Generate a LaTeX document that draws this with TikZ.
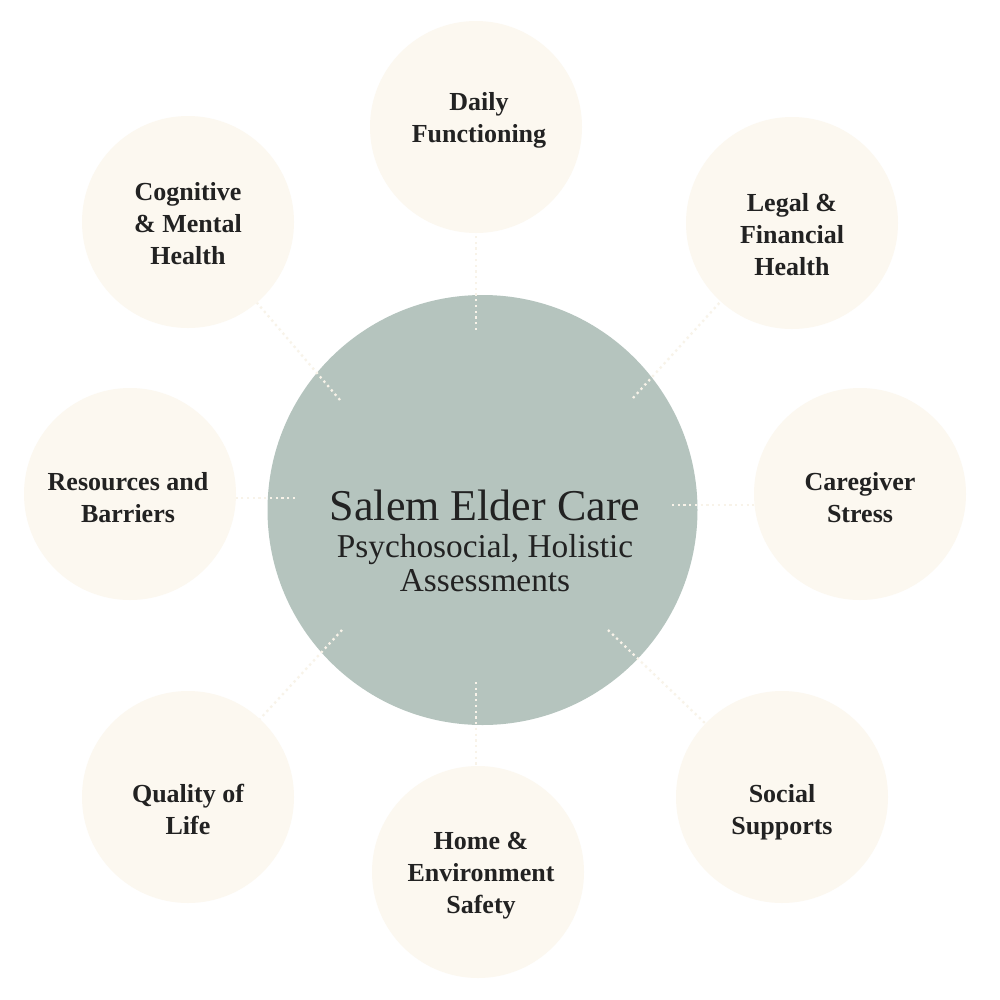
\documentclass[tikz,border=0pt]{standalone}
\usepackage{fontspec}
\setmainfont{Liberation Serif}
\definecolor{sage}{HTML}{B5C4BE}
\definecolor{cream}{HTML}{FCF8F0}
\definecolor{dotc}{HTML}{F8F3E9}
\definecolor{ink}{HTML}{222222}
\begin{document}
\begin{tikzpicture}[x=0.75pt,y=-0.75pt,
  sat/.style={circle,fill=cream,minimum size=159pt,inner sep=0pt},
  sattext/.style={text=ink,align=center,inner sep=0pt,font=\bfseries\fontsize{19.5}{24}\selectfont},
  hub/.style={circle,fill=sage,minimum size=322.5pt,inner sep=0pt},
  link/.style={draw=dotc,line width=1.7pt,dash pattern=on 1.7pt off 2.6pt}]
\useasboundingbox (0,0) rectangle (1000,1000);
\fill[white] (0,0) rectangle (1000,1000);
\node[hub] (hub) at (482.5,510) {};
\node[sat] (daily) at (476,127) {};
\node[sat] (legal) at (792,223) {};
\node[sat] (care) at (860,494) {};
\node[sat] (social) at (782,797) {};
\node[sat] (home) at (478,872) {};
\node[sat] (qual) at (188,797) {};
\node[sat] (res) at (130,494) {};
\node[sat] (cog) at (188,222) {};
\node[sattext] (dailyt) at (479,120) {Daily\\Functioning};
\node[sattext] (legalt) at (792,235) {Legal \&\\Financial\\Health};
\node[sattext] (caret) at (860,498) {Caregiver\\Stress};
\node[sattext] (socialt) at (782,812) {Social\\Supports};
\node[sattext] (homet) at (481,876) {Home \&\\Environment\\Safety};
\node[sattext] (qualt) at (188,809) {Quality of\\Life};
\node[sattext] (rest) at (128,498) {Resources and\\Barriers};
\node[sattext] (cogt) at (188,224) {Cognitive\\\& Mental\\Health};
\coordinate (idaily) at (476,330);
\coordinate (ilegal) at (633,398);
\coordinate (icare) at (672,505);
\coordinate (isocial) at (608,630);
\coordinate (ihome) at (476,682);
\coordinate (iqual) at (342,630);
\coordinate (ires) at (295,498);
\coordinate (icog) at (340,400);
\draw[link] (idaily) -- (idaily |- daily.south);
\draw[link] (ilegal) -- (legal);
\draw[link] (icare) -- (icare -| care.west);
\draw[link] (isocial) -- (social);
\draw[link] (ihome) -- (ihome |- home.north);
\draw[link] (iqual) -- (qual);
\draw[link] (ires) -- (ires -| res.east);
\draw[link] (icog) -- (cog);
\node[text=ink,align=center,font=\fontsize{33}{38}\selectfont] (title) at (485,505) {Salem Elder Care};
\node[text=ink,align=center,font=\fontsize{25}{26}\selectfont] (sub) at (485,563) {Psychosocial, Holistic\\Assessments};
\end{tikzpicture}
\end{document}
